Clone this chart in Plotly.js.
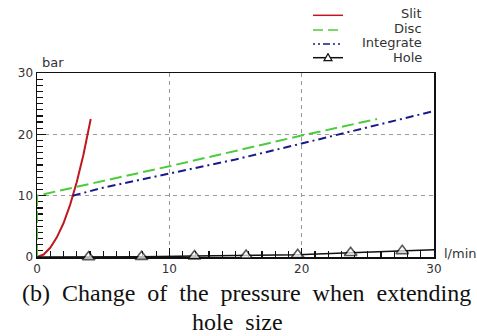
<!DOCTYPE html>
<html><head><meta charset="utf-8">
<script src="https://cdn.plot.ly/plotly-3.0.1.min.js"></script>
<style>html,body{margin:0;padding:0;background:#fff;}#chart{width:477px;height:336px;}</style>
</head><body><div id="chart"></div>
<script>
// Data
const slitX = [0, 0.5, 1, 1.5, 2, 2.5, 3, 3.5, 4.06];
const slitY = [0, 0.4, 1.5, 3.2, 5.5, 8.5, 12.2, 16.6, 22.5];
const discX = [0, 0, 10, 20, 25.7];
const discY = [0, 10, 14.8, 19.8, 22.5];
const integX = [2.7, 5, 10, 15, 20, 25, 30];
const integY = [10, 11.3, 13.6, 15.9, 18.5, 21.2, 23.8];
const holeX = [0, 3.9, 7.9, 11.9, 15.8, 19.7, 23.7, 27.6, 30];
const holeY = [0, 0, 0.05, 0.15, 0.25, 0.35, 0.7, 1.0, 1.2];
const holeMarkerSize = [0, 11, 11, 11, 11, 11, 11, 11, 0];
const seriesNames = ['Slit', 'Disc', 'Integrate', 'Hole'];
const seriesColors = ['#c01820', '#4ccc3c', '#1a1a88', '#111111'];
const xTicks = [0, 10, 20, 30];
const yTicks = [0, 10, 20, 30];
const captionLine1 = '(b)\u00A0\u00A0Change\u00A0\u00A0of\u00A0\u00A0the\u00A0\u00A0pressure\u00A0\u00A0when\u00A0\u00A0extending';
const captionLine2 = 'hole\u00A0\u00A0size';

const traces = [
  {x: slitX, y: slitY, name: seriesNames[0], mode: 'lines', line: {color: seriesColors[0], width: 2}},
  {x: discX, y: discY, name: seriesNames[1], mode: 'lines', line: {color: seriesColors[1], width: 2, dash: '12px,5px'}},
  {x: integX, y: integY, name: seriesNames[2], mode: 'lines', line: {color: seriesColors[2], width: 2, dash: '8px,4px,2px,4px'}},
  {x: holeX, y: holeY, name: seriesNames[3], mode: 'lines+markers', line: {color: seriesColors[3], width: 1.5},
   marker: {symbol: 'triangle-up', size: holeMarkerSize, color: '#ffffff', line: {width: 1.6, color: seriesColors[3]}}, cliponaxis: false}
];

const W = 477, L = 37, R = 43, T = 73, B = 79;
const pw = W - L - R, ph = 336 - T - B;
const px = v => (v - L) / pw;
const py = v => (336 - B - v) / ph;

const font = 'DejaVu Sans, Verdana, sans-serif';
const serif = 'Liberation Serif, Times New Roman, serif';
const annotations = [
  {text: 'bar', x: px(40), y: py(62), xref: 'paper', yref: 'paper', xanchor: 'left', yanchor: 'middle', showarrow: false, font: {family: font, size: 13, color: '#333'}},
  {text: 'l/min', x: px(442), y: py(253), xref: 'paper', yref: 'paper', xanchor: 'left', yanchor: 'middle', showarrow: false, font: {family: font, size: 13, color: '#333'}},
  {text: captionLine1, x: px(20), y: py(293), xref: 'paper', yref: 'paper', xanchor: 'left', yanchor: 'middle', showarrow: false, font: {family: serif, size: 24, color: '#111'}},
  {text: captionLine2, x: px(237.5), y: py(322), xref: 'paper', yref: 'paper', xanchor: 'center', yanchor: 'middle', showarrow: false, font: {family: serif, size: 24, color: '#111'}}
];
const legY = [13.5, 28.5, 43, 58];
const legLineY = [15.3, 30, 44, 57.7];
const shapes = [];
const dashes = ['solid', '10px,5px', '2px,3px,2px,3px,7px,3px', 'solid'];
seriesNames.forEach((n, i) => {
  annotations.push({text: n, x: px(423), y: py(legY[i]), xref: 'paper', yref: 'paper', xanchor: 'right', yanchor: 'middle', showarrow: false, borderpad: 0, font: {family: font, size: 13, color: '#333'}});
  shapes.push({type: 'line', xref: 'paper', yref: 'paper', x0: px(313), x1: px(343), y0: py(legLineY[i]), y1: py(legLineY[i]), line: {color: seriesColors[i], width: 1.5, dash: dashes[i]}});
});
// triangle on Hole legend sample
const tx = 328, ty = 57.7;
shapes.push({type: 'path', xref: 'paper', yref: 'paper', fillcolor: '#fff',
  path: `M ${px(tx-4)} ${py(ty+3)} L ${px(tx+4)} ${py(ty+3)} L ${px(tx)} ${py(ty-4)} Z`, line: {color: '#111', width: 1.2}});

const axisCommon = {
  range: [0, 30], showline: true, mirror: true, linecolor: '#111', linewidth: 1.5, layer: 'below traces',
  ticks: 'inside', ticklen: 9, tickcolor: '#111', tickwidth: 1.2,
  showgrid: true, gridcolor: '#999', griddash: '4px,4px', gridwidth: 1.2, zeroline: false,
  tickfont: {family: font, size: 12, color: '#333'},
  minor: {dtick: 1, ticks: 'inside', ticklen: 6, tickcolor: '#111', tickwidth: 1.2, showgrid: false}
};

const layout = {
  width: W, height: 336, margin: {l: L, r: R, t: T, b: B},
  paper_bgcolor: '#fff', plot_bgcolor: '#fff', showlegend: false,
  xaxis: Object.assign({}, axisCommon, {tickvals: xTicks, ticktext: xTicks.map(String)}),
  yaxis: Object.assign({}, axisCommon, {tickvals: yTicks, ticktext: yTicks.map(String), ticklen: 9}),
  annotations: annotations, shapes: shapes
};
Plotly.newPlot('chart', traces, layout, {staticPlot: true, displayModeBar: false});
</script></body></html>
